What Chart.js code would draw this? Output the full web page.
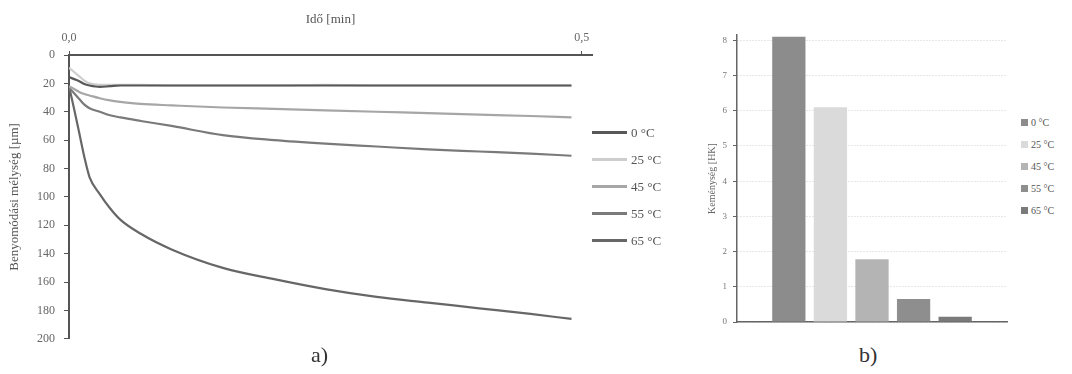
<!DOCTYPE html>
<html>
<head>
<meta charset="utf-8">
<script src="https://cdn.jsdelivr.net/npm/chart.js@4/dist/chart.umd.min.js"></script>
<style>
    body { margin: 0; background: #fff; width: 1072px; height: 374px; position: relative; overflow: hidden; font-family: "Liberation Serif", serif; }
    canvas { position: absolute; }
    #chart-a { left: 0; top: 0; }
    #chart-b { left: 700px; top: 0; }
    .legend { position: absolute; color: #555; }
    #legend-a { left: 592px; top: 119px; font-size: 13px; }
    #legend-a .item { height: 27px; display: flex; align-items: center; }
    #legend-a .swatch { width: 35px; height: 3px; margin-right: 4px; }
    #legend-b { left: 1021px; top: 111px; font-size: 10px; }
    #legend-b .item { height: 22px; display: flex; align-items: center; }
    #legend-b .swatch { width: 7px; height: 7px; margin-right: 3px; }
    .panel-label { position: absolute; top: 342px; font-size: 22px; color: #333; }
</style>
</head>
<body>
<canvas id="chart-a" width="597" height="355"></canvas>
<canvas id="chart-b" width="315" height="335"></canvas>
<div class="legend" id="legend-a"></div>
<div class="legend" id="legend-b"></div>
<div class="panel-label" style="left:311px">a)</div>
<div class="panel-label" style="left:859px">b)</div>
<script>
// a) indentation depth vs time
const timeMin = [0, 0.005, 0.01, 0.015, 0.02, 0.03, 0.04, 0.05, 0.07, 0.1, 0.15, 0.2, 0.25, 0.3, 0.35, 0.4, 0.45, 0.49];
const depth0C  = [15.5, 17, 18.5, 20.5, 21.5, 22.5, 22, 21.5, 21.5, 21.5, 21.5, 21.5, 21.5, 21.5, 21.5, 21.5, 21.5, 21.5];
const depth25C = [9, 12, 15, 18, 20, 21, 21, 21, 21, 21.5, 21.5, 21.5, 21, 21.5, 21.5, 21.5, 21.5, 21.5];
const depth45C = [22, 24, 26, 27.5, 28.5, 30.5, 32, 33, 34.5, 35.5, 37, 38, 39, 40, 41, 42, 43, 44];
const depth55C = [23, 27, 31, 35, 37.5, 40, 42.5, 44, 46.5, 50, 56.5, 60, 62.5, 64.5, 66.5, 68, 69.5, 71];
const depth65C = [22, 38, 55, 72, 86, 98, 108, 116, 126, 137, 150, 158, 165, 170.5, 174.5, 178.5, 182.5, 186];
const timeTicks = [0, 0.5];

// b) hardness per temperature
const tempLabels = ['0 °C', '25 °C', '45 °C', '55 °C', '65 °C'];
const hardness = [8.1, 6.1, 1.78, 0.65, 0.15];
const hardnessTicks = [0, 1, 2, 3, 4, 5, 6, 7, 8];

const lineColors = ['#585858', '#cdcdcd', '#a6a6a6', '#7a7a7a', '#676767'];
const barColors = ['#8c8c8c', '#dadada', '#b4b4b4', '#8e8e8e', '#7a7a7a'];

const serif = 'Liberation Serif';

function fmtComma(v) {
    return v.toFixed(1).replace('.', ',');
}

function buildLegend(el, colors) {
    tempLabels.forEach((label, i) => {
        let item = document.createElement('div');
        item.className = 'item';
        let sw = document.createElement('span');
        sw.className = 'swatch';
        sw.style.background = colors[i];
        item.appendChild(sw);
        item.appendChild(document.createTextNode(label));
        el.appendChild(item);
    });
}

let depthSeries = [depth0C, depth25C, depth45C, depth55C, depth65C];

new Chart(document.getElementById('chart-a'), {
    type: 'line',
    data: {
        datasets: depthSeries.map((series, i) => ({
            label: tempLabels[i],
            data: series.map((d, j) => ({x: timeMin[j], y: d})),
            borderColor: lineColors[i],
            borderWidth: 2.2,
            pointRadius: 0,
            cubicInterpolationMode: 'monotone',
            fill: false
        }))
    },
    options: {
        responsive: false,
        animation: false,
        layout: { padding: {left: 0, right: 5, top: 0, bottom: 8} },
        plugins: { legend: {display: false}, tooltip: {enabled: false} },
        scales: {
            x: {
                type: 'linear',
                position: 'top',
                min: 0,
                max: 0.51,
                afterBuildTicks: scale => { scale.ticks = timeTicks.map(v => ({value: v})); },
                afterFit: scale => { scale.height = 55; },
                ticks: {
                    callback: value => fmtComma(value),
                    color: '#666',
                    font: {family: serif, size: 12},
                    padding: 6,
                    maxRotation: 0
                },
                grid: { drawOnChartArea: false, tickLength: 4, tickColor: '#555' },
                border: { color: '#555', width: 2 },
                title: {
                    display: true,
                    text: 'Idő [min]',
                    color: '#555',
                    font: {family: serif, size: 13},
                    padding: {top: 12, bottom: 0}
                }
            },
            y: {
                reverse: true,
                min: 0,
                max: 200,
                afterFit: scale => { scale.width = 69; },
                ticks: {
                    stepSize: 20,
                    color: '#666',
                    font: {family: serif, size: 12},
                    padding: 9
                },
                grid: { drawOnChartArea: false, tickLength: 5, tickColor: '#555' },
                border: { color: '#555', width: 2 },
                title: {
                    display: true,
                    text: 'Benyomódási mélység [µm]',
                    color: '#555',
                    font: {family: serif, size: 13},
                    padding: {top: 7, bottom: 0}
                }
            }
        }
    }
});

new Chart(document.getElementById('chart-b'), {
    type: 'bar',
    data: {
        labels: [''],
        datasets: hardness.map((h, i) => ({
            label: tempLabels[i],
            data: [h],
            backgroundColor: barColors[i],
            borderWidth: 0,
            categoryPercentage: 0.77,
            barPercentage: 0.8
        }))
    },
    options: {
        responsive: false,
        animation: false,
        layout: { padding: {left: 0, right: 8, top: 35, bottom: 0} },
        plugins: { legend: {display: false}, tooltip: {enabled: false} },
        scales: {
            x: {
                afterFit: scale => { scale.height = 13; },
                ticks: { display: false },
                grid: { display: false },
                border: { color: '#666', width: 1.5 }
            },
            y: {
                min: 0,
                max: 8.15,
                afterFit: scale => { scale.width = 37; },
                afterBuildTicks: scale => { scale.ticks = hardnessTicks.map(v => ({value: v})); },
                ticks: {
                    color: '#777',
                    font: {family: serif, size: 9},
                    padding: 6
                },
                grid: { color: '#cfcfcf', tickLength: 4, tickColor: '#666' },
                border: { color: '#666', width: 1.5, dash: [1, 2] },
                title: {
                    display: true,
                    text: 'Keménység [HK]',
                    color: '#666',
                    font: {family: serif, size: 10},
                    padding: {top: 6, bottom: 0}
                }
            }
        }
    }
});

buildLegend(document.getElementById('legend-a'), lineColors);
buildLegend(document.getElementById('legend-b'), barColors);
</script>
</body>
</html>
